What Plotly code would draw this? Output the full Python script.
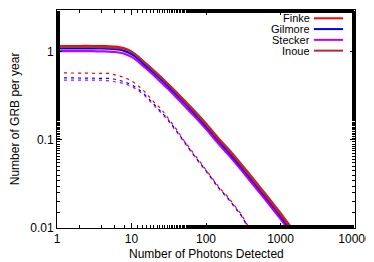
import plotly.graph_objects as go

# Number of photons detected (x)
photons = [1, 2, 3, 4, 5, 6, 7, 8, 10, 12, 15, 20, 25, 30, 40, 50, 70, 100,
           150, 200, 300, 500, 700, 1000, 1400, 2000]

# Solid curves: number of GRB per year
finke_solid = [1.17, 1.17, 1.17, 1.165, 1.16, 1.15, 1.13, 1.10, 1.01, 0.90, 0.76, 0.61,
               0.51, 0.44, 0.345, 0.283, 0.21, 0.15, 0.10, 0.077, 0.051, 0.030, 0.021,
               0.0143, 0.0097, 0.0066]
gilmore_solid = [1.10, 1.10, 1.10, 1.095, 1.09, 1.08, 1.06, 1.03, 0.95, 0.85, 0.72, 0.58,
                 0.485, 0.42, 0.328, 0.27, 0.20, 0.143, 0.096, 0.073, 0.0487, 0.0286,
                 0.0201, 0.0137, 0.0093, 0.0063]
stecker_solid = [1.02, 1.02, 1.02, 1.015, 1.01, 1.00, 0.98, 0.955, 0.88, 0.79, 0.67, 0.54,
                 0.45, 0.39, 0.305, 0.25, 0.186, 0.133, 0.089, 0.068, 0.0452, 0.0265,
                 0.0186, 0.0127, 0.0086, 0.0058]
inoue_solid = [1.14, 1.14, 1.14, 1.135, 1.13, 1.12, 1.10, 1.08, 1.00, 0.90, 0.76, 0.61,
               0.515, 0.445, 0.35, 0.288, 0.215, 0.154, 0.103, 0.079, 0.0527, 0.0310,
               0.0218, 0.0148, 0.0101, 0.0069]

# Dashed curves
photons_d = [1, 2, 3, 4, 5, 6, 7, 8, 10, 12, 15, 20, 25, 30, 40, 50, 70, 100,
             150, 200, 300, 400, 500]
finke_dash = [0.58, 0.58, 0.58, 0.578, 0.57, 0.55, 0.53, 0.515, 0.47, 0.42, 0.355, 0.27,
              0.225, 0.185, 0.133, 0.10, 0.068, 0.046, 0.029, 0.0222, 0.0142, 0.0092,
              0.0070]
gilmore_dash = [0.51, 0.51, 0.51, 0.508, 0.50, 0.49, 0.475, 0.46, 0.425, 0.385, 0.33, 0.255,
                0.213, 0.177, 0.128, 0.097, 0.066, 0.045, 0.0283, 0.0216, 0.0138, 0.0090,
                0.0068]
stecker_dash = [0.48, 0.48, 0.48, 0.478, 0.47, 0.46, 0.45, 0.44, 0.405, 0.37, 0.32, 0.25,
                0.208, 0.173, 0.125, 0.095, 0.065, 0.044, 0.0278, 0.0212, 0.0136, 0.0089,
                0.0067]

names = ["Finke", "Gilmore", "Stecker", "Inoue"]
colors = ["#ff0000", "#0000ff", "#c000ff", "#b03030"]
x_title = "Number of Photons Detected"
y_title = "Number of GRB per year"

fig = go.Figure()

# dashed
for ys, c in [(stecker_dash, colors[2]), (gilmore_dash, colors[1]), (finke_dash, colors[0])]:
    fig.add_trace(go.Scatter(x=photons_d, y=ys, mode="lines",
                             line=dict(color=c, width=1.2, dash="3px,4px"),
                             showlegend=False, hoverinfo="skip"))
# solid
for ys, c in [(stecker_solid, colors[2]), (gilmore_solid, colors[1]),
              (finke_solid, colors[0]), (inoue_solid, colors[3])]:
    fig.add_trace(go.Scatter(x=photons, y=ys, mode="lines",
                             line=dict(color=c, width=2.2, shape="spline", smoothing=0.6),
                             showlegend=False, hoverinfo="skip"))

font = dict(family="Liberation Sans, Arial, sans-serif", size=12, color="black")
lfont = dict(family="Liberation Sans, Arial, sans-serif", size=11, color="black")

# manual gnuplot-style legend (text right-aligned, sample line to the right)
for i, (n, c) in enumerate(zip(names, colors)):
    yp = 0.962 - i * 0.0495
    fig.add_annotation(x=0.856, y=yp, xref="paper", yref="paper", text=n, height=10,
                       showarrow=False, xanchor="right", yanchor="middle", font=lfont)
    fig.add_shape(type="line", xref="paper", yref="paper", x0=0.862, x1=0.960,
                  y0=yp, y1=yp, line=dict(color=c, width=2))

# axis titles
fig.add_annotation(x=0.5, y=-0.119, xref="paper", yref="paper", text=x_title,
                   showarrow=False, xanchor="center", yanchor="middle", font=font)
fig.add_annotation(x=-0.14, y=0.5, xref="paper", yref="paper", text=y_title,
                   textangle=-90, showarrow=False, xanchor="center", yanchor="middle",
                   font=font)

axis_common = dict(type="log", showline=True, linecolor="black", linewidth=1,
                   mirror="allticks", ticks="inside", ticklen=5, tickcolor="black",
                   showgrid=False, zeroline=False, automargin=False,
                   tickfont=font,
                   minor=dict(ticks="inside", ticklen=3, tickcolor="black", showgrid=False))

# page body adds an 8px offset, so the figure is 8px smaller than the window
fig.update_layout(
    width=366, height=254,
    margin=dict(l=49, r=19, t=2, b=34),
    paper_bgcolor="white", plot_bgcolor="white",
    font=font,
    xaxis=dict(axis_common, range=[0, 4],
               tickvals=[1, 10, 100, 1000, 10000],
               ticktext=["1", "10", "100", "1000", "10000"]),
    yaxis=dict(axis_common, range=[-2, 0.477],
               tickvals=[0.01, 0.1, 1],
               ticktext=["0.01", "0.1", "1"]),
)

fig.write_html("out.html")
